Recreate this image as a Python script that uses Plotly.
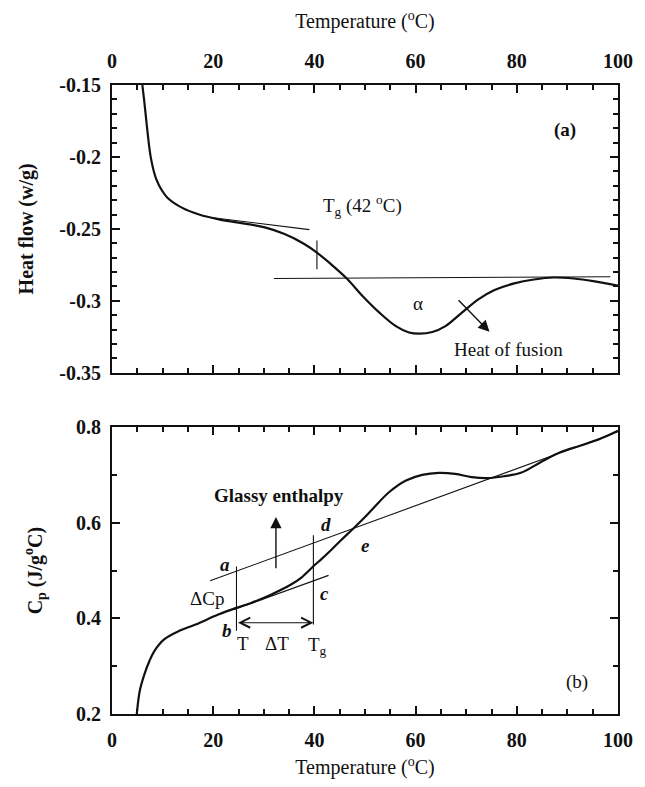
import plotly.graph_objects as go

# ---------------- data: panel (a) heat flow ----------------
hf_T = [6.0, 6.4, 7.0, 7.7, 8.7, 10.0, 11.0, 13.9, 17.2, 21.1, 25.0, 30.2, 34.1, 38.0, 40.5,
        43.1, 46.4, 49.6, 52.9, 56.1, 58.7, 60.7, 63.3, 65.9, 69.1, 72.4, 75.6, 79.5, 83.4,
        87.3, 91.2, 95.1, 100.0]
hf_val = [-0.150, -0.162, -0.182, -0.201, -0.215, -0.224, -0.2285, -0.2354, -0.2400, -0.2434,
          -0.2457, -0.2490, -0.2536, -0.2605, -0.2665, -0.2740, -0.2845, -0.2970, -0.3084,
          -0.3176, -0.3220, -0.3228, -0.3217, -0.3176, -0.3084, -0.2990, -0.2925, -0.2879,
          -0.2852, -0.2838, -0.2845, -0.2863, -0.2895]
glass_tan_T = [20.0, 39.0]
glass_tan_val = [-0.2423, -0.2505]
base_T = [32.0, 98.5]
base_val = [-0.2845, -0.2833]
tg_mark_T = [40.5, 40.5]
tg_mark_val = [-0.258, -0.278]

# ---------------- data: panel (b) heat capacity ----------------
cp_T = [4.9, 5.5, 6.4, 7.4, 8.4, 10.3, 13.3, 16.5, 21.0, 24.6, 27.5, 31.4, 35.3, 37.5, 39.9,
        41.5, 43.1, 45.0, 47.7, 50.0, 51.6, 54.8, 58.1, 61.3, 64.6, 67.8, 71.1, 74.3, 77.6,
        80.8, 84.7, 88.6, 92.5, 96.4, 100.0]
cp_val = [0.200, 0.249, 0.283, 0.311, 0.332, 0.356, 0.374, 0.387, 0.408, 0.422, 0.4324,
          0.4497, 0.4704, 0.486, 0.510, 0.525, 0.541, 0.561, 0.588, 0.612, 0.630, 0.6644,
          0.6885, 0.7003, 0.7045, 0.7024, 0.6955, 0.6934, 0.6976, 0.7045, 0.7267, 0.7475,
          0.7612, 0.7751, 0.7923]
upper_T = [19.4, 100.0]
upper_val = [0.4787, 0.7905]
lower_T = [24.0, 42.8]
lower_val = [0.418, 0.490]
vline_T_T = [24.6, 24.6]
vline_T_val = [0.374, 0.5086]
vline_Tg_T = [39.8, 39.8]
vline_Tg_val = [0.387, 0.574]

x_ticks = [0, 20, 40, 60, 80, 100]
hf_ticks = [-0.35, -0.3, -0.25, -0.2, -0.15]
hf_ticktext = ["-0.35", "-0.3", "-0.25", "-0.2", "-0.15"]
cp_ticks = [0.2, 0.4, 0.6, 0.8]
cp_ticktext = ["0.2", "0.4", "0.6", "0.8"]

FONT = "Liberation Serif"
BLK = "#111111"

fig = go.Figure()

thick = dict(color=BLK, width=2.2)
thin = dict(color=BLK, width=1.1)

fig.add_trace(go.Scatter(x=hf_T, y=hf_val, mode="lines", line=dict(shape="spline", **thick),
                         xaxis="x", yaxis="y", showlegend=False))
fig.add_trace(go.Scatter(x=glass_tan_T, y=glass_tan_val, mode="lines", line=thin,
                         xaxis="x", yaxis="y", showlegend=False))
fig.add_trace(go.Scatter(x=base_T, y=base_val, mode="lines", line=thin,
                         xaxis="x", yaxis="y", showlegend=False))
fig.add_trace(go.Scatter(x=tg_mark_T, y=tg_mark_val, mode="lines", line=thin,
                         xaxis="x", yaxis="y", showlegend=False))

fig.add_trace(go.Scatter(x=cp_T, y=cp_val, mode="lines", line=dict(shape="spline", **thick),
                         xaxis="x2", yaxis="y2", showlegend=False))
for xs, ys in [(upper_T, upper_val), (lower_T, lower_val), (vline_T_T, vline_T_val),
               (vline_Tg_T, vline_Tg_val)]:
    fig.add_trace(go.Scatter(x=xs, y=ys, mode="lines", line=thin,
                             xaxis="x2", yaxis="y2", showlegend=False))

tickfont = dict(family=FONT, size=20, color=BLK, weight="bold")
common_x = dict(range=[0, 100], tickvals=x_ticks, ticks="inside", ticklen=8, tickwidth=2,
                tickcolor=BLK, showline=True, linecolor=BLK, linewidth=2.2, mirror="allticks",
                showgrid=False, zeroline=False, tickfont=tickfont, ticklabelstandoff=7,
                minor=dict(dtick=5, ticks="inside", ticklen=5, tickwidth=1.5, tickcolor=BLK,
                           showgrid=False))
common_y = dict(ticks="inside", ticklen=8, tickwidth=2, tickcolor=BLK, showline=True,
                linecolor=BLK, linewidth=2.2, mirror="allticks", showgrid=False,
                zeroline=False, tickfont=tickfont, ticklabelstandoff=5)

title_font = dict(family=FONT, size=20, color=BLK)
ytitle_font = dict(family=FONT, size=20, color=BLK, weight="bold")

# page body has an 8px margin: figure sized so it fills the 645x787 window exactly
fig.update_layout(
    width=637, height=779,
    margin=dict(l=104, r=20, t=74, b=70),
    paper_bgcolor="white", plot_bgcolor="white",
    xaxis=dict(domain=[0, 1], anchor="y", side="top",
               title=dict(text="Temperature (<sup>o</sup>C)", font=title_font, standoff=16),
               **common_x),
    yaxis=dict(domain=[0.5425, 1], anchor="x", range=[-0.35, -0.15], tickvals=hf_ticks,
               ticktext=hf_ticktext,
               title=dict(text="Heat flow (w/g)", font=ytitle_font, standoff=20),
               minor=dict(dtick=0.01, ticks="inside", ticklen=5, tickwidth=1.5, tickcolor=BLK,
                          showgrid=False),
               **common_y),
    xaxis2=dict(domain=[0, 1], anchor="y2", side="bottom",
                title=dict(text="Temperature (<sup>o</sup>C)", font=title_font, standoff=10),
                **common_x),
    yaxis2=dict(domain=[0, 0.456], anchor="x2", range=[0.2, 0.8], tickvals=cp_ticks,
                ticktext=cp_ticktext,
                title=dict(text="C<sub>p</sub> (J/g<sup>o</sup>C)", font=ytitle_font, standoff=28),
                minor=dict(dtick=0.1, ticks="inside", ticklen=5, tickwidth=1.5, tickcolor=BLK,
                           showgrid=False),
                **common_y),
)

reg = dict(family=FONT, size=19, color=BLK)
bold = dict(family=FONT, size=19, color=BLK, weight="bold")
ital = dict(family=FONT, size=19, color=BLK, weight="bold", style="italic")

def txt(x, y, text, font, xref="x", yref="y", xanchor="center"):
    fig.add_annotation(x=x, y=y, xref=xref, yref=yref, text=text, showarrow=False,
                       font=font, xanchor=xanchor, yanchor="middle")

# panel (a) labels
txt(41.3, -0.2335, "T<sub>g</sub> (42 <sup>o</sup>C)", reg, xanchor="left")
txt(89.5, -0.1815, "(a)", bold)
txt(60.4, -0.3016, "α", reg)
txt(78.3, -0.3336, "Heat of fusion", reg)
fig.add_annotation(x=74.6, y=-0.3215, ax=68.2, ay=-0.2985, xref="x", yref="y", axref="x",
                   ayref="y", showarrow=True, arrowhead=2, arrowsize=1.6, arrowwidth=1.4,
                   arrowcolor=BLK, text="")

# panel (b) labels
txt(33.0, 0.657, "Glassy enthalpy", bold, xref="x2", yref="y2")
fig.add_annotation(x=32.4, y=0.612, ax=32.4, ay=0.5015, xref="x2", yref="y2", axref="x2",
                   ayref="y2", showarrow=True, arrowhead=2, arrowsize=1.6, arrowwidth=1.4,
                   arrowcolor=BLK, text="")
fig.add_annotation(x=39.8, y=0.391, ax=24.6, ay=0.391, xref="x2", yref="y2", axref="x2",
                   ayref="y2", showarrow=True, arrowhead=5, startarrowhead=5,
                   arrowside="end+start", arrowsize=1.8, startarrowsize=1.8, arrowwidth=1.1,
                   arrowcolor=BLK, text="")
txt(22.3, 0.512, "a", ital, xref="x2", yref="y2")
txt(22.8, 0.374, "b", ital, xref="x2", yref="y2")
txt(42.0, 0.452, "c", ital, xref="x2", yref="y2")
txt(42.2, 0.597, "d", ital, xref="x2", yref="y2")
txt(50.0, 0.5535, "e", ital, xref="x2", yref="y2")
txt(18.8, 0.442, "ΔCp", reg, xref="x2", yref="y2")
txt(25.9, 0.347, "T", reg, xref="x2", yref="y2")
txt(32.7, 0.347, "ΔT", reg, xref="x2", yref="y2")
txt(40.6, 0.342, "T<sub>g</sub>", reg, xref="x2", yref="y2")
txt(91.8, 0.266, "(b)", reg, xref="x2", yref="y2")

fig.write_html("out.html")
